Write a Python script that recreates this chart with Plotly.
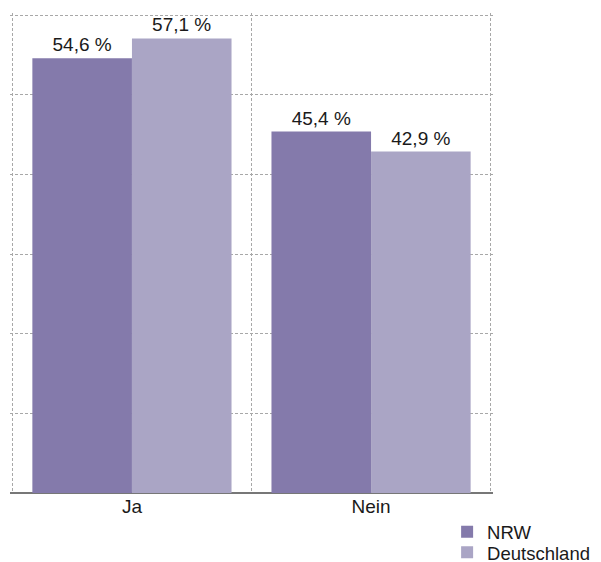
import plotly.graph_objects as go

categories = ['Ja', 'Nein']
nrw = [54.6, 45.4]
deutschland = [57.1, 42.9]
series_names = ['NRW', 'Deutschland']
colors = ['#847aab', '#aaa5c5']

font_family = 'Liberation Sans, Arial, sans-serif'


def fmt(v):
    return f'{v:.1f} %'.replace('.', ',')


fig = go.Figure()
legend_ids = ['legend', 'legend2']
for name, vals, col, lg in zip(series_names, [nrw, deutschland], colors, legend_ids):
    fig.add_trace(go.Bar(
        x=categories, y=vals, name=name, legend=lg,
        marker=dict(color=col, line=dict(width=0)),
        text=[fmt(v) for v in vals], textposition='outside',
        textfont=dict(size=19, color='#1a1a1a'),
        cliponaxis=False,
    ))

legend_style = dict(x=0.905, xanchor='left', yanchor='top',
                    font=dict(size=18.5), itemwidth=30,
                    bgcolor='rgba(0,0,0,0)')

fig.update_layout(
    width=593, height=554,
    margin=dict(l=2, r=108, t=5, b=69, autoexpand=False),
    paper_bgcolor='white', plot_bgcolor='white',
    barmode='group', bargap=0.167, bargroupgap=0,
    font=dict(family=font_family, size=19, color='#1a1a1a'),
    showlegend=True,
    legend=dict(y=-0.042, **legend_style),
    legend2=dict(y=-0.085, **legend_style),
)
fig.update_xaxes(
    type='category', tickson='boundaries', ticks='',
    range=[-0.51, 1.51],
    showgrid=True, gridcolor='#a8a8a8', griddash='3px,2px', gridwidth=1,
    showline=False, tickfont=dict(size=19),
)
fig.update_yaxes(
    range=[0, 60.3], dtick=10, showticklabels=False,
    showgrid=True, gridcolor='#a8a8a8', griddash='3px,2px', gridwidth=1,
    zeroline=True, zerolinecolor='#777777', zerolinewidth=2,
)

fig.write_html('out.html')
